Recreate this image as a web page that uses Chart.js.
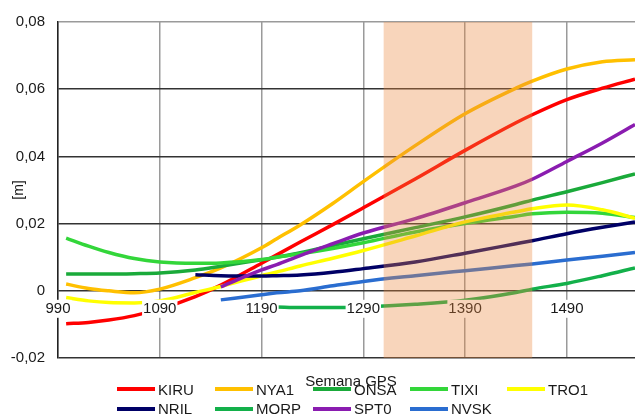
<!DOCTYPE html>
<html><head><meta charset="utf-8">
<script src="https://cdn.jsdelivr.net/npm/chart.js@4.4.1/dist/chart.umd.min.js"></script>
<style>
html,body{margin:0;padding:0;background:#fff;}
#wrap{position:relative;width:635px;height:417px;overflow:hidden;font-family:"Liberation Sans",Arial,sans-serif;}
#c{position:absolute;left:0;top:0;}
#xtitle{position:absolute;top:373px;left:251px;width:200px;text-align:center;font-size:15px;line-height:15px;color:#1a1a1a;}
.leg{position:absolute;height:15px;display:flex;align-items:center;font-size:15px;line-height:15px;color:#1a1a1a;white-space:nowrap;}
.leg i{display:inline-block;width:38px;height:4px;margin-right:3px;}
</style></head><body>
<div id="wrap"><canvas id="c" width="635" height="417"></canvas><div id="legend"></div><div id="xtitle">Semana GPS</div></div>
<script>
const weeks = [998, 1020, 1040, 1065, 1090, 1125, 1150, 1190, 1205, 1228, 1260, 1290, 1341, 1390, 1440, 1456, 1490, 1525, 1557];
const KIRU = [-0.0098, -0.0094, -0.0087, -0.0074, -0.0054, -0.0017, 0.0017, 0.0082, 0.0107, 0.0145, 0.0197, 0.0247, 0.0333, 0.0418, 0.0500, 0.0524, 0.0569, 0.0603, 0.0630];
const NYA1 = [0.002, 0.0007, 0.0, -0.0006, 0.0005, 0.0039, 0.0068, 0.0128, 0.0155, 0.0196, 0.0260, 0.0325, 0.0432, 0.0527, 0.0603, 0.0624, 0.0660, 0.0682, 0.0688];
const ONSA = [0.005, 0.005, 0.005, 0.0051, 0.0053, 0.0062, 0.0073, 0.0092, 0.010, 0.0113, 0.0135, 0.0155, 0.0188, 0.022, 0.0257, 0.027, 0.0295, 0.0322, 0.0348];
const TIXI = [0.0157, 0.0133, 0.0114, 0.0096, 0.0086, 0.0082, 0.0083, 0.0093, 0.0100, 0.0110, 0.0126, 0.0143, 0.0175, 0.0200, 0.0222, 0.0229, 0.0234, 0.0231, 0.0218];
const TRO1 = [-0.002, -0.003, -0.0035, -0.0036, -0.003, -0.0005, 0.0013, 0.0045, 0.0056, 0.0074, 0.0097, 0.012, 0.0163, 0.0205, 0.0235, 0.0244, 0.0255, 0.0241, 0.0216];
const NRIL = [null, null, null, null, null, 0.0048, 0.0045, 0.0044, 0.0045, 0.0047, 0.0055, 0.0066, 0.0086, 0.0112, 0.0140, 0.0149, 0.0170, 0.0189, 0.0205];
const MORP = [null, null, null, null, null, null, null, null, -0.0048, -0.005, -0.005, -0.0048, -0.004, -0.0028, -0.0005, 0.0005, 0.0022, 0.0045, 0.0068];
const SPT0 = [null, null, null, null, null, null, 0.0012, 0.0062, 0.0078, 0.0105, 0.014, 0.0172, 0.0215, 0.0262, 0.0312, 0.0332, 0.0385, 0.0440, 0.0495];
const NVSK = [null, null, null, null, null, null, -0.0027, -0.0012, -0.0006, 0.0, 0.0015, 0.0028, 0.0045, 0.006, 0.0075, 0.008, 0.0092, 0.0103, 0.0114];

const seriesNames = ['KIRU', 'NYA1', 'ONSA', 'TIXI', 'TRO1', 'NRIL', 'MORP', 'SPT0', 'NVSK'];
const seriesValues = [KIRU, NYA1, ONSA, TIXI, TRO1, NRIL, MORP, SPT0, NVSK];
const seriesColors = ['#ff0000', '#ffc000', '#1aaa3a', '#33d63a', '#ffff00', '#000066', '#13b04a', '#8a1cb0', '#2a6dd0'];

const xTicks = [990, 1090, 1190, 1290, 1390, 1490];
const xTickLabels = ['990', '1090', '1190', '1290', '1390', '1490'];
const yTicks = [-0.02, 0, 0.02, 0.04, 0.06, 0.08];
const yTickLabels = ['-0,02', '0', '0,02', '0,04', '0,06', '0,08'];
const band = [1310, 1456];

const bandPlugin = {
  id: 'band',
  afterDraw(chart) {
    const {ctx, chartArea, scales} = chart;
    const x1 = scales.x.getPixelForValue(band[0]);
    const x2 = scales.x.getPixelForValue(band[1]);
    ctx.save();
    ctx.fillStyle = 'rgba(235,135,61,0.35)';
    ctx.fillRect(x1, chartArea.top, x2 - x1, chartArea.bottom - chartArea.top);
    ctx.restore();
  }
};

const tickFont = {family: '"Liberation Sans", Arial, sans-serif', size: 15};

new Chart(document.getElementById('c'), {
  type: 'line',
  data: {
    labels: weeks,
    datasets: seriesNames.map((n, i) => ({
      label: n,
      data: seriesValues[i],
      borderColor: seriesColors[i],
      backgroundColor: seriesColors[i],
      borderWidth: 3.5,
      pointRadius: 0,
      cubicInterpolationMode: 'monotone',
      fill: false,
      order: seriesNames.length - i
    }))
  },
  options: {
    responsive: false,
    animation: false,
    devicePixelRatio: 1,
    layout: {padding: {left: 0, top: 20, right: 0, bottom: 59}},
    plugins: {legend: {display: false}, tooltip: {enabled: false}},
    scales: {
      x: {
        type: 'linear',
        position: {y: 0},
        min: 990, max: 1557,
        afterBuildTicks: s => { s.ticks = xTicks.map(v => ({value: v})); },
        grid: {color: '#9a9a9a', lineWidth: 1.5, drawTicks: false},
        border: {display: false},
        ticks: {
          font: tickFont, color: '#1a1a1a', padding: 9, maxRotation: 0, autoSkip: false,
          callback: (v, i) => xTickLabels[i],
          showLabelBackdrop: true, backdropColor: '#ffffff', backdropPadding: {top: 0, bottom: 0, left: 1, right: 1}, z: 1
        }
      },
      y: {
        type: 'linear',
        min: -0.02, max: 0.08,
        afterBuildTicks: s => { s.ticks = yTicks.map(v => ({value: v})); },
        afterFit: s => { s.width = 58; },
        grid: {
          color: c => (c.tick && c.tick.value > 0.079) ? '#9a9a9a' : '#333333',
          lineWidth: 1.5, drawTicks: false
        },
        border: {color: '#222222', width: 1.5},
        ticks: {font: tickFont, color: '#1a1a1a', padding: 13, callback: (v, i) => yTickLabels[i]},
        title: {display: true, text: '[m]', font: {family: '"Liberation Sans", Arial, sans-serif', size: 14}, color: '#1a1a1a', padding: {top: 11, bottom: 0}}
      }
    }
  },
  plugins: [bandPlugin]
});

// legend built from the series arrays
const legendCols = [117, 215, 313, 410, 507];
const legendRows = [389, 408.5];
const leg = document.getElementById('legend');
seriesNames.forEach((n, i) => {
  const d = document.createElement('div');
  d.className = 'leg';
  d.style.left = legendCols[i % 5] + 'px';
  d.style.top = (legendRows[Math.floor(i / 5)] - 7.5) + 'px';
  const sw = document.createElement('i');
  sw.style.background = seriesColors[i];
  d.appendChild(sw);
  d.appendChild(document.createTextNode(n));
  leg.appendChild(d);
});
</script>
</body></html>
